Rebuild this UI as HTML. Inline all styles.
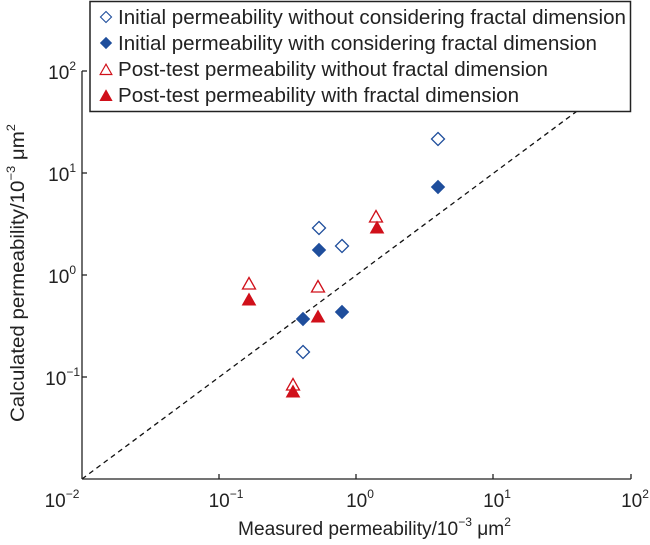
<!DOCTYPE html>
<html><head><meta charset="utf-8"><style>
html,body{margin:0;padding:0;background:#fff;}
svg text{font-family:"Liberation Sans",Arial,sans-serif;fill:#222;}
</style></head><body>
<svg width="650" height="540" viewBox="0 0 650 540" xmlns="http://www.w3.org/2000/svg">
<defs>
<path id="dm" d="M0,-6.5 L6.5,0 L0,6.5 L-6.5,0 Z"/>
<path id="tr" d="M0,-6.5 L6.5,5 L-6.5,5 Z"/>
</defs>
<line x1="82" y1="479" x2="631" y2="71" stroke="#111" stroke-width="1.3" stroke-dasharray="5,4"/>
<g stroke="#222" stroke-width="1.3" fill="none">
<line x1="82" y1="71" x2="82" y2="479"/>
<line x1="82" y1="479" x2="631" y2="479"/>
<line x1="82" y1="71" x2="87" y2="71"/>
<line x1="82" y1="173" x2="87" y2="173"/>
<line x1="82" y1="275" x2="87" y2="275"/>
<line x1="82" y1="377" x2="87" y2="377"/>
<line x1="219" y1="479" x2="219" y2="474"/>
<line x1="356" y1="479" x2="356" y2="474"/>
<line x1="493" y1="479" x2="493" y2="474"/>
<line x1="631" y1="479" x2="631" y2="474"/>
</g>
<g font-size="19" text-anchor="end">
<text x="76" y="79">10<tspan font-size="12" dy="-9">2</tspan></text>
<text x="76" y="181">10<tspan font-size="12" dy="-9">1</tspan></text>
<text x="76" y="283">10<tspan font-size="12" dy="-9">0</tspan></text>
<text x="80" y="385">10<tspan font-size="12" dy="-9">−1</tspan></text>
</g>
<g font-size="19" text-anchor="middle">
<text x="62" y="507">10<tspan font-size="12" dy="-9">−2</tspan></text>
<text x="226" y="507">10<tspan font-size="12" dy="-9">−1</tspan></text>
<text x="360" y="507">10<tspan font-size="12" dy="-9">0</tspan></text>
<text x="497" y="507">10<tspan font-size="12" dy="-9">1</tspan></text>
<text x="635" y="507">10<tspan font-size="12" dy="-9">2</tspan></text>
</g>
<text x="238" y="535" font-size="19" textLength="273" lengthAdjust="spacingAndGlyphs">Measured permeability/10<tspan font-size="12" dy="-9">−3</tspan><tspan dy="9"> μm</tspan><tspan font-size="12" dy="-9">2</tspan></text>
<text transform="translate(24,422) rotate(-90)" font-size="19" textLength="298" lengthAdjust="spacingAndGlyphs">Calculated permeability/10<tspan font-size="12" dy="-9">−3</tspan><tspan dy="9"> μm</tspan><tspan font-size="12" dy="-9">2</tspan></text>
<g fill="#fff" stroke="#1f4e9c" stroke-width="1.3">
<use href="#dm" x="438" y="139"/><use href="#dm" x="319" y="228"/><use href="#dm" x="342" y="246"/><use href="#dm" x="303" y="352"/>
</g>
<g fill="#1f4e9c" stroke="#1f4e9c" stroke-width="1">
<use href="#dm" x="438" y="187"/><use href="#dm" x="319" y="250"/><use href="#dm" x="303" y="319"/><use href="#dm" x="342" y="312"/>
</g>
<g fill="#fff" stroke="#d0101a" stroke-width="1.3">
<use href="#tr" x="249" y="284"/><use href="#tr" x="318" y="287"/><use href="#tr" x="376" y="217"/><use href="#tr" x="293" y="385"/>
</g>
<g fill="#d0101a" stroke="#d0101a" stroke-width="1">
<use href="#tr" x="249" y="300"/><use href="#tr" x="318" y="317"/><use href="#tr" x="377" y="228"/><use href="#tr" x="293" y="392"/>
</g>
<rect x="90" y="1.5" width="540.5" height="110" fill="#fff" stroke="#222" stroke-width="1.5"/>
<g transform="translate(106,17)"><use href="#dm" fill="#fff" stroke="#1f4e9c" stroke-width="1.3" transform="scale(0.85)"/></g>
<g transform="translate(106,43)"><use href="#dm" fill="#1f4e9c" stroke="#1f4e9c" transform="scale(0.85)"/></g>
<g transform="translate(106,70)"><use href="#tr" fill="#fff" stroke="#d0101a" stroke-width="1.3" transform="scale(0.9)"/></g>
<g transform="translate(106,96)"><use href="#tr" fill="#d0101a" stroke="#d0101a" transform="scale(0.9)"/></g>
<g font-size="20" lengthAdjust="spacingAndGlyphs">
<text x="118" y="24" textLength="508" lengthAdjust="spacingAndGlyphs">Initial permeability without considering fractal dimension</text>
<text x="118" y="50" textLength="479" lengthAdjust="spacingAndGlyphs">Initial permeability with considering fractal dimension</text>
<text x="118" y="76" textLength="430" lengthAdjust="spacingAndGlyphs">Post-test permeability without fractal dimension</text>
<text x="118" y="102" textLength="401" lengthAdjust="spacingAndGlyphs">Post-test permeability with fractal dimension</text>
</g>
</svg>
</body></html>
